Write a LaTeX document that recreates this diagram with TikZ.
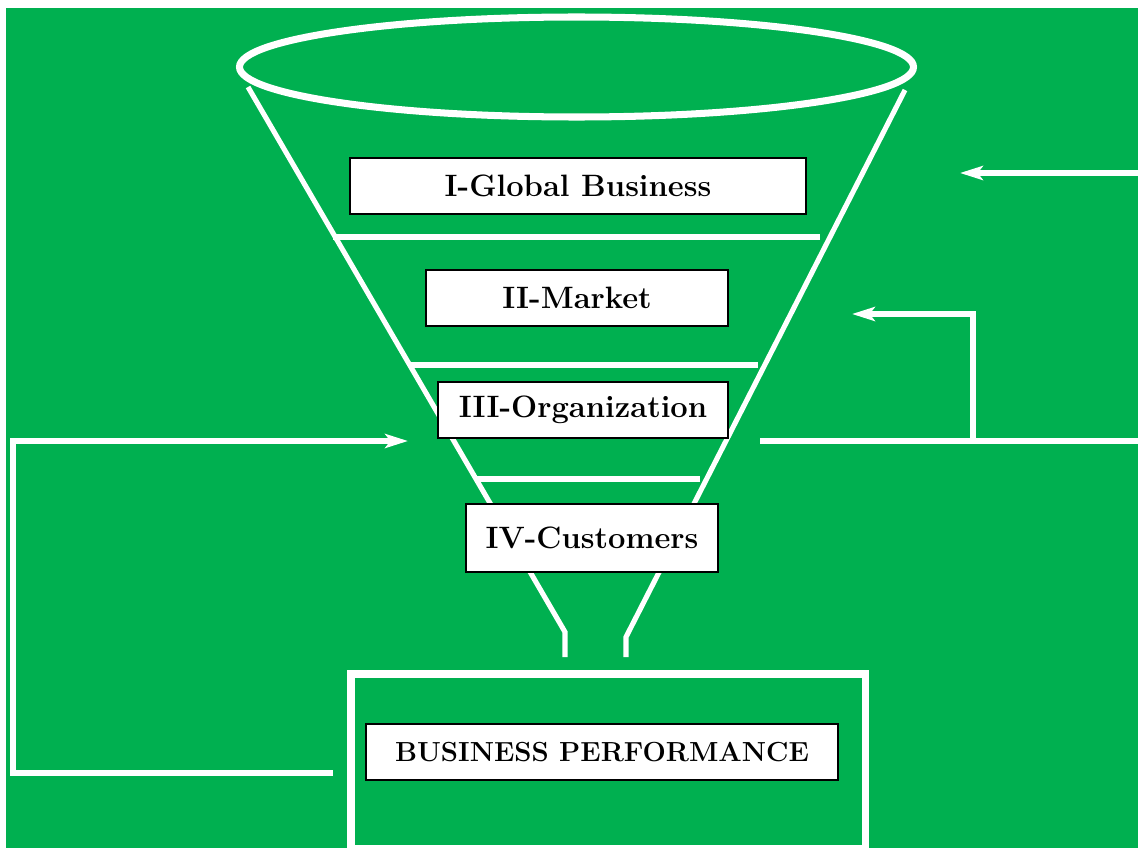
\documentclass[tikz,border=0pt]{standalone}
\usepackage{xcolor}
\usepackage{tikz}
\usetikzlibrary{arrows.meta}
\definecolor{funnelgreen}{RGB}{0,176,80}

\begin{document}
\begin{tikzpicture}[x=0.02cm, y=-0.02cm,
    wline/.style={draw=white, line width=2.9pt},
    stage/.style={draw=black, fill=white, line width=1.2pt, inner sep=0pt,
        font=\fontsize{17.6}{20}\selectfont\bfseries},
    feed/.style={wline, -{Stealth[length=13pt, width=8pt, inset=3pt]}}]
    % Background
    \useasboundingbox (0,0) rectangle (1138,848);
    \fill[white] (0,0) rectangle (1138,848);
    \fill[funnelgreen] (6,8) rectangle (1138,848);

    % Funnel
    \draw[wline, line width=4pt] (576.5,67) ellipse [x radius=337, y radius=50];
    \draw[wline] (248,87) -- (565,632) -- (565,657);
    \draw[wline] (905,90) -- (626,637) -- (626,657);
    \draw[wline, line width=3.4pt] (333,237) -- (820,237);
    \draw[wline, line width=3.4pt] (409,365) -- (758,365);
    \draw[wline, line width=3.4pt] (477,479) -- (700,479);

    % Levels
    \node[stage, minimum width=9.12cm, minimum height=1.12cm] (global) at (578,186) {I-Global Business};
    \node[stage, minimum width=6.04cm, minimum height=1.12cm] (market) at (577,298) {II-Market};
    \node[stage, minimum width=5.8cm, minimum height=1.12cm] (organization) at (583,410) {III-Organization};
    \node[stage, minimum width=5.04cm, minimum height=1.36cm] (customers) at (592,538) {IV-Customers};

    % Outcome
    \draw[wline, line width=4pt] (351,674) rectangle (865,849);
    \node[stage, minimum width=9.44cm, minimum height=1.12cm, font=\fontsize{15.7}{18}\selectfont\bfseries]
        (performance) at (602,752) {BUSINESS PERFORMANCE};

    % Feedback loops
    \coordinate (outL) at (333,773);
    \coordinate (cornerL) at (13,441);
    \coordinate (inL) at (408,441);
    \coordinate (outR) at (760,441);
    \coordinate (edgeR) at (1138,441);
    \coordinate (branchR) at (973,441);
    \coordinate (inM) at (852,314);
    \coordinate (edgeT) at (1138,173);
    \coordinate (inT) at (960,173);
    \draw[feed] (outL) -| (cornerL) -- (inL);
    \draw[wline] (outR) -- (edgeR);
    \draw[feed] (branchR) |- (inM);
    \draw[feed] (edgeT) -- (inT);
\end{tikzpicture}
\end{document}
